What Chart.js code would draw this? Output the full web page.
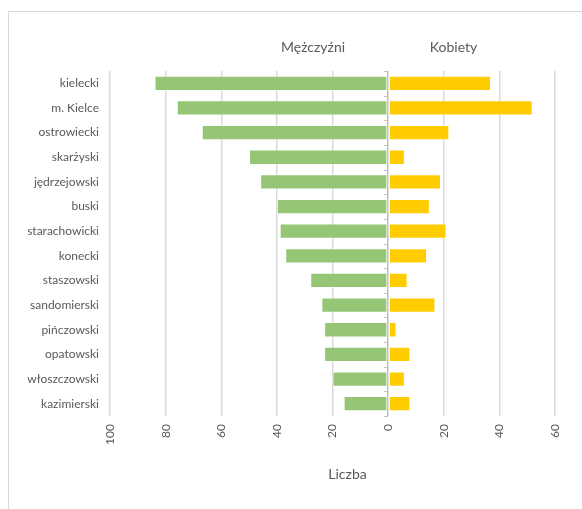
<!DOCTYPE html>
<html>
<head>
<meta charset="utf-8">
<script src="https://cdn.jsdelivr.net/npm/chart.js@4/dist/chart.umd.min.js"></script>
<style>
    html, body { margin: 0; padding: 0; background: #fff; }
    #wrap { position: relative; width: 582px; height: 509px; overflow: hidden; }
    #frame { position: absolute; left: 8px; top: 11px; width: 640px; height: 560px; border: 1px solid #d9d9d9; }
    #chart { position: absolute; left: 0; top: 0; }
</style>
</head>
<body>
<div id="wrap">
    <div id="frame"></div>
    <canvas id="chart" width="582" height="509"></canvas>
</div>
<script>
    const powiaty = ['kielecki', 'm. Kielce', 'ostrowiecki', 'skarżyski', 'jędrzejowski', 'buski', 'starachowicki',
        'konecki', 'staszowski', 'sandomierski', 'pińczowski', 'opatowski', 'włoszczowski', 'kazimierski'];
    const mezczyzni = [84, 76, 67, 50, 46, 40, 39, 37, 28, 24, 23, 23, 20, 16];
    const kobiety = [37, 52, 22, 6, 19, 15, 21, 14, 7, 17, 3, 8, 6, 8];
    const xTicks = [-100, -80, -60, -40, -20, 0, 20, 40, 60];

    const textColor = '#595959';
    const fontName = 'Lato, "Open Sans", sans-serif';

    // napisy nad wykresem, tytul osi i kreski na osi zero
    const extras = {
        id: 'extras',
        afterDraw(chart) {
            const ctx = chart.ctx;
            const x = chart.scales.x;
            const y = chart.scales.y;
            const area = chart.chartArea;
            const zero = x.getPixelForValue(0);

            ctx.save();
            ctx.strokeStyle = '#bfbfbf';
            ctx.lineWidth = 1;
            const step = y.getPixelForValue(1) - y.getPixelForValue(0);
            for (let i = 0; i <= powiaty.length; i++) {
                const py = Math.round(y.getPixelForValue(0) - step / 2 + i * step) + 0.5;
                ctx.beginPath();
                ctx.moveTo(zero - 4, py);
                ctx.lineTo(zero, py);
                ctx.stroke();
            }

            ctx.fillStyle = textColor;
            ctx.font = '14px ' + fontName;
            ctx.textAlign = 'center';
            ctx.textBaseline = 'middle';
            ctx.fillText('Mężczyźni', x.getPixelForValue(-27), 47);
            ctx.fillText('Kobiety', x.getPixelForValue(23.5), 47);
            ctx.fillText('Liczba', (area.left + area.right) / 2 + 15, 474);
            ctx.restore();
        }
    };

    const ctx = document.getElementById('chart').getContext('2d');
    const myChart = new Chart(ctx, {
        type: 'bar',
        data: {
            labels: powiaty,
            datasets: [{
                label: 'Mężczyźni',
                data: mezczyzni.map(v => -v),
                backgroundColor: '#95c676',
                borderColor: 'rgba(255, 255, 255, 0.5)',
                borderWidth: 1,
                borderSkipped: false
            }, {
                label: 'Kobiety',
                data: kobiety,
                backgroundColor: '#ffcc00',
                borderColor: 'rgba(255, 255, 255, 0.5)',
                borderWidth: 1,
                borderSkipped: false
            }]
        },
        options: {
            indexAxis: 'y',
            responsive: false,
            animation: false,
            barPercentage: 0.62,
            categoryPercentage: 1,
            layout: { padding: { top: 71, right: 27, bottom: 53, left: 0 } },
            plugins: {
                legend: { display: false },
                tooltip: { enabled: false }
            },
            scales: {
                x: {
                    stacked: true,
                    min: -100,
                    max: 60,
                    afterBuildTicks(scale) {
                        scale.ticks = xTicks.map(v => ({ value: v }));
                    },
                    afterFit(scale) {
                        scale.height = 40;
                    },
                    grid: {
                        color: (c) => c.tick && c.tick.value === 0 ? '#bfbfbf' : '#d9d9d9',
                        lineWidth: 1.5,
                        drawTicks: false
                    },
                    border: { display: false },
                    ticks: {
                        color: textColor,
                        font: { family: fontName, size: 12 },
                        minRotation: 90,
                        maxRotation: 90,
                        padding: 8,
                        callback: (v) => Math.abs(v)
                    }
                },
                y: {
                    stacked: true,
                    afterFit(scale) {
                        scale.width = 110;
                    },
                    grid: { display: false, drawTicks: false },
                    border: { display: false },
                    ticks: {
                        color: textColor,
                        font: { family: fontName, size: 12 },
                        padding: 11
                    }
                }
            }
        },
        plugins: [extras]
    });
</script>
</body>
</html>
